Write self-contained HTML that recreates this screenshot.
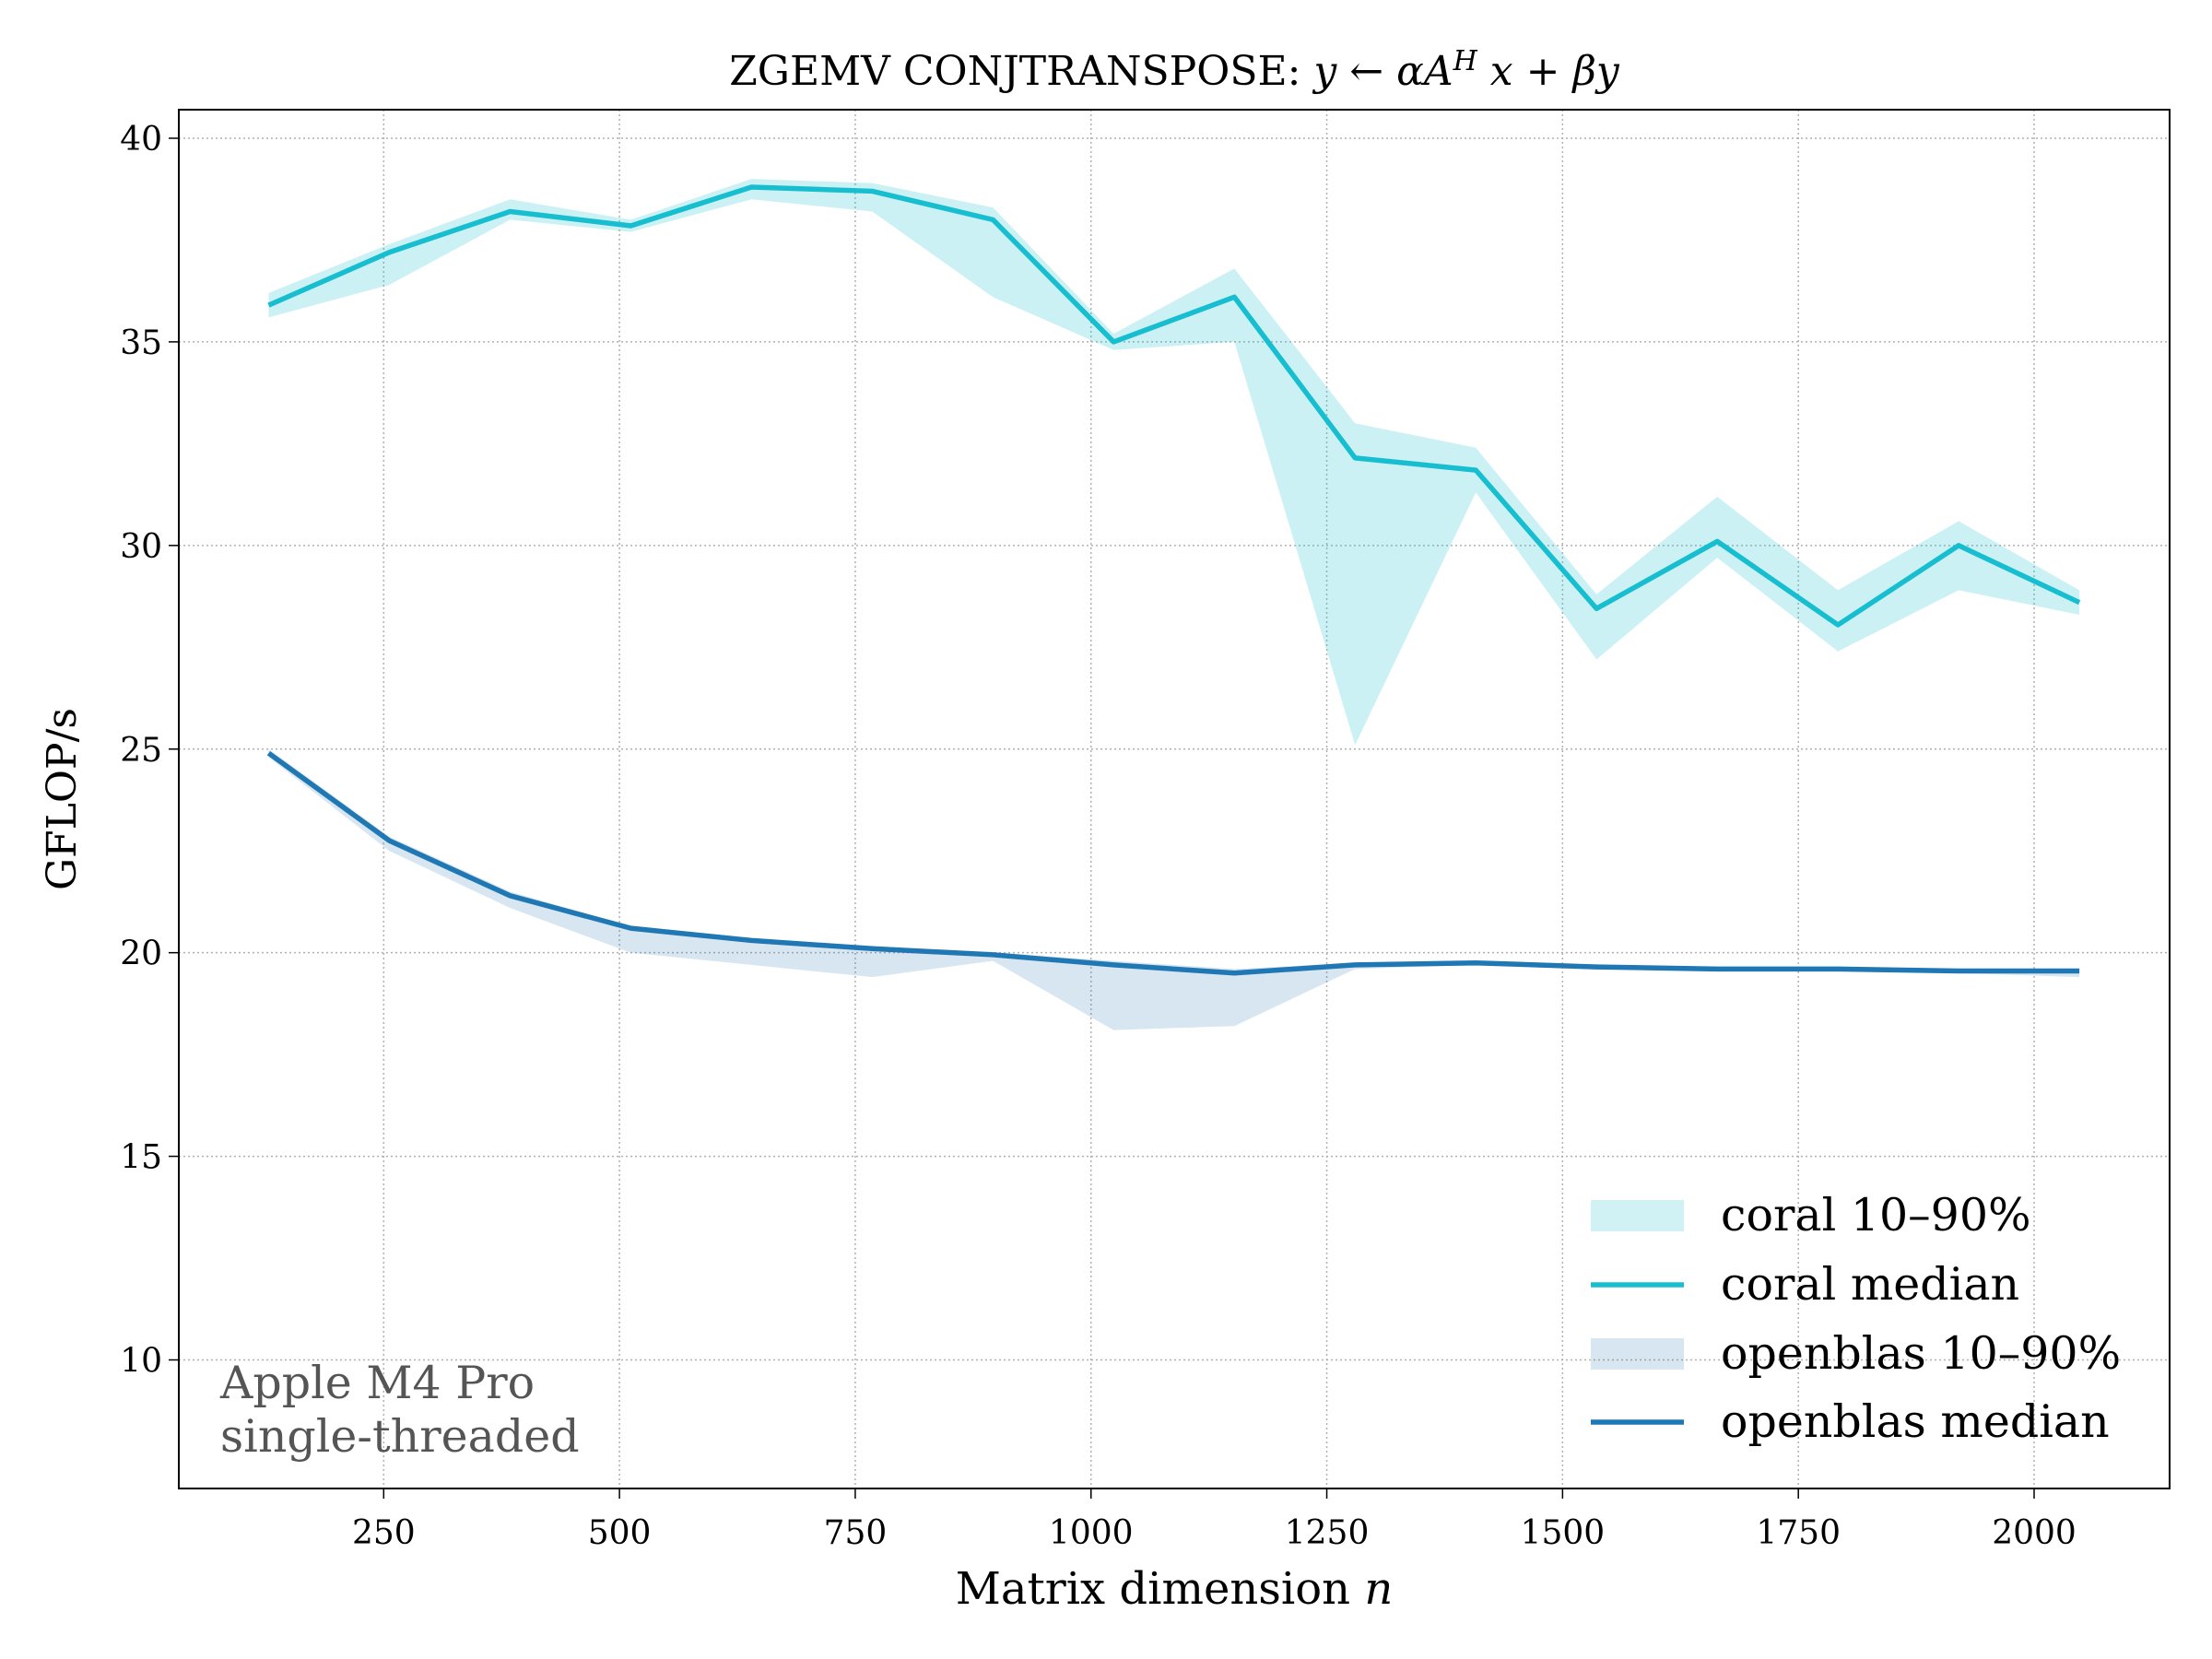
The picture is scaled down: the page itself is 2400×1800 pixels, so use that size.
<!DOCTYPE html>
<html><head><meta charset="utf-8"><style>
body{margin:0;background:#fff}
svg{display:block;font-family:"DejaVu Serif","Liberation Serif",serif}
</style></head><body>
<svg id="chart" width="2400" height="1800" viewBox="0 0 2400 1800" xmlns="http://www.w3.org/2000/svg">
<rect width="2400" height="1800" fill="#fff"/>
<g id="grid"></g>
<g id="series"></g>
<rect x="194" y="119" width="2160" height="1496" fill="none" stroke="#000" stroke-width="2"/>
<g id="ticks"></g>
<text x="1274" y="92" font-size="44" text-anchor="middle">ZGEMV CONJTRANSPOSE: <tspan font-style="italic">y</tspan>  ←  <tspan font-style="italic">αA</tspan><tspan font-style="italic" font-size="30" dy="-16">H</tspan><tspan font-style="italic" dy="16"> x</tspan> + <tspan font-style="italic">βy</tspan></text>
<text x="1274" y="1740" font-size="48" text-anchor="middle">Matrix dimension <tspan font-style="italic">n</tspan></text>
<text transform="translate(82,867) rotate(-90)" font-size="44" text-anchor="middle">GFLOP/s</text>
<text x="239" y="1517" font-size="49" fill="#555">Apple M4 Pro</text>
<text x="239" y="1575" font-size="49" fill="#555">single-threaded</text>
<g font-size="49">
<rect x="1726" y="1302" width="101" height="34" fill="#17becf" fill-opacity="0.2"/>
<text x="1867" y="1335">coral 10–90%</text>
<line x1="1726" y1="1394" x2="1827" y2="1394" stroke="#17becf" stroke-width="5.5"/>
<text x="1867" y="1410">coral median</text>
<rect x="1726" y="1452" width="101" height="34" fill="#1f77b4" fill-opacity="0.18"/>
<text x="1867" y="1485">openblas 10–90%</text>
<line x1="1726" y1="1543" x2="1827" y2="1543" stroke="#1f77b4" stroke-width="5.5"/>
<text x="1867" y="1559">openblas median</text>
</g>
</svg>
<script>
const sizes=[128,256,384,512,640,768,896,1024,1152,1280,1408,1536,1664,1792,1920,2048];
const coralMedian=[35.9,37.2,38.2,37.85,38.8,38.7,38.0,35.0,36.1,32.15,31.85,28.45,30.1,28.05,30.0,28.6];
const coralP10=[35.6,36.4,38.0,37.7,38.5,38.2,36.1,34.8,35.0,25.1,31.3,27.2,29.7,27.4,28.9,28.3];
const coralP90=[36.2,37.4,38.5,38.0,39.0,38.9,38.3,35.2,36.8,33.0,32.4,28.8,31.2,28.9,30.6,28.9];
const oblasMedian=[24.9,22.75,21.4,20.6,20.3,20.1,19.95,19.7,19.5,19.7,19.75,19.65,19.6,19.6,19.55,19.55];
const oblasP10=[24.8,22.5,21.1,20.0,19.7,19.4,19.8,18.1,18.2,19.6,19.7,19.6,19.55,19.55,19.5,19.4];
const oblasP90=[25.0,22.85,21.5,20.65,20.35,20.15,20.0,19.8,19.6,19.75,19.8,19.7,19.65,19.65,19.6,19.6];
const xTicks=[250,500,750,1000,1250,1500,1750,2000];
const yTicks=[10,15,20,25,30,35,40];

const NS="http://www.w3.org/2000/svg";
const X=v=>416.3+(v-250)*(2207-416.3)/1750;
const Y=v=>1475.5-(v-10)*(1475.5-150)/30;
function mk(tag,attrs,parent){const e=document.createElementNS(NS,tag);for(const k in attrs)e.setAttribute(k,attrs[k]);parent.appendChild(e);return e;}
const grid=document.getElementById('grid'),ticks=document.getElementById('ticks'),ser=document.getElementById('series');
xTicks.forEach(t=>{
  const g=mk('line',{x1:X(t),x2:X(t),y1:119,y2:1615,stroke:'#b0b0b0','stroke-width':1.5,'stroke-dasharray':'2,3'},grid);
  
  
  const tk=mk('line',{x1:X(t),x2:X(t),y1:1615,y2:1626,stroke:'#000','stroke-width':1.5},ticks);
  
  
  const lb=mk('text',{x:X(t),y:1675,'font-size':36,'text-anchor':'middle'},ticks);
  lb.textContent=t;
  
  
});
yTicks.forEach(t=>{
  const g=mk('line',{x1:194,x2:2354,y1:Y(t),y2:Y(t),stroke:'#b0b0b0','stroke-width':1.5,'stroke-dasharray':'2,3'},grid);
  
  
  const tk=mk('line',{x1:183,x2:194,y1:Y(t),y2:Y(t),stroke:'#000','stroke-width':1.5},ticks);
  
  
  const lb=mk('text',{x:176,y:Y(t)+13,'font-size':36,'text-anchor':'end'},ticks);
  lb.textContent=t;
  
  
});
function band(lo,hi,color,op,name){
  let d=sizes.map((s,i)=>(i?'L':'M')+X(s)+','+Y(hi[i])).join('');
  for(let i=sizes.length-1;i>=0;i--)d+='L'+X(sizes[i])+','+Y(lo[i]);
  const p=mk('path',{d:d+'Z',fill:color,'fill-opacity':op,stroke:'none'},ser);
  
  
}
function line(vals,color,name){
  const p=mk('polyline',{points:sizes.map((s,i)=>X(s)+','+Y(vals[i])).join(' '),fill:'none',stroke:color,'stroke-width':5.5,'stroke-linejoin':'round'},ser);
  
  
}
band(coralP10,coralP90,'#17becf',0.22,'coral-band');
band(oblasP10,oblasP90,'#1f77b4',0.18,'openblas-band');
line(coralMedian,'#17becf','coral-median-line');
line(oblasMedian,'#1f77b4','openblas-median-line');
</script>
</body></html>
